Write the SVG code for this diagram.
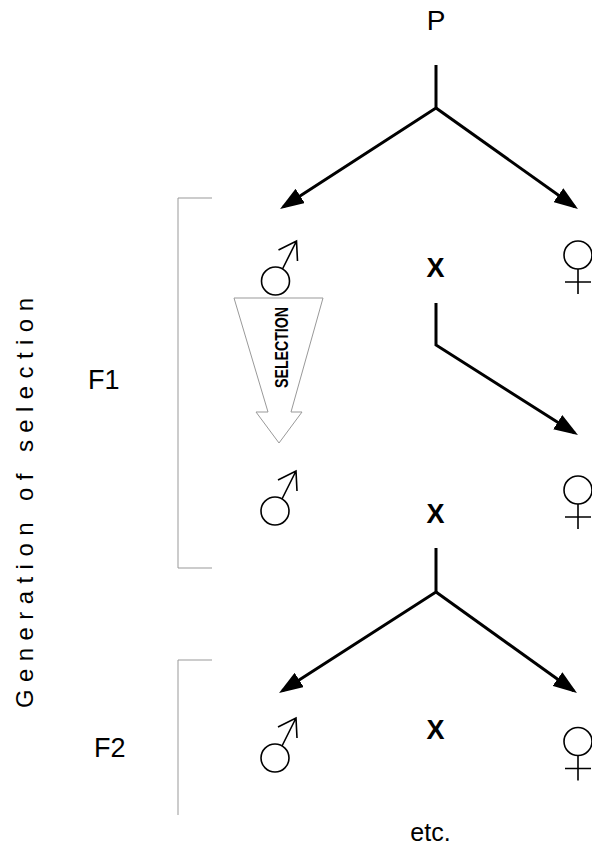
<svg xmlns="http://www.w3.org/2000/svg" xmlns:xlink="http://www.w3.org/1999/xlink" width="592" height="847" viewBox="0 0 592 847">
<style>
.lbl{font-family:"Liberation Sans",Arial,sans-serif;fill:#000}
.cross{font-family:"Liberation Sans",Arial,sans-serif;fill:#000;font-weight:bold;font-size:27px}
.conn{fill:none;stroke:#000;stroke-width:3;stroke-linejoin:miter}
.sym{fill:none;stroke:#000;stroke-width:1.6}
.grey{fill:none;stroke:#999;stroke-width:1}
</style>
<defs>
<marker id="ah" markerUnits="userSpaceOnUse" markerWidth="24" markerHeight="17" viewBox="0 0 24 17" refX="20" refY="8.5" orient="auto">
<path d="M0,0 L24,8.5 L0,17 z" fill="#000"/>
</marker>
<g id="maleSym" class="sym">
<circle cx="0" cy="0" r="14"/>
<path d="M7,-12 L21,-40 M3,-31 L21,-40 L22,-20"/>
</g>
<g id="femaleSym" class="sym">
<circle cx="0" cy="0" r="14"/>
<path d="M0,14 L0,39 M-13,27 L13,27"/>
</g>
</defs>
<rect width="592" height="847" fill="#fff"/>

<g id="label-generation">
<text class="lbl" font-size="24" transform="translate(33,708) rotate(-90)" textLength="410" lengthAdjust="spacing">Generation of selection</text>
</g>
<g id="bracket-F1"><path class="grey" d="M212,198 L178,198 L178,568 L212,568"/></g>
<g id="bracket-F2"><path class="grey" d="M212,660 L178,660 L178,815"/></g>
<g id="label-F1"><text class="lbl" x="88" y="389" font-size="27">F1</text></g>
<g id="label-F2"><text class="lbl" x="94" y="757" font-size="27">F2</text></g>

<g id="label-P"><text class="lbl" x="436" y="30" font-size="28" text-anchor="middle">P</text></g>

<g id="male1"><use xlink:href="#maleSym" x="275.5" y="281"/></g>
<g id="cross1"><text class="cross" x="435.5" y="277" text-anchor="middle">X</text></g>
<g id="female1"><use xlink:href="#femaleSym" x="578" y="255"/></g>

<g id="selection">
<polygon points="234,298 323,298 291,412 302,412 279,443 256,412 268,412" fill="#fff" stroke="#999" stroke-width="1"/>
<text class="lbl" font-size="18" font-weight="bold" transform="translate(288,388) rotate(-90)" textLength="81" lengthAdjust="spacingAndGlyphs">SELECTION</text>
</g>

<g id="male2"><use xlink:href="#maleSym" x="275" y="511"/></g>
<g id="cross2"><text class="cross" x="435.5" y="523" text-anchor="middle">X</text></g>
<g id="female2"><use xlink:href="#femaleSym" x="578" y="490"/></g>

<g id="male3"><use xlink:href="#maleSym" x="275" y="758"/></g>
<g id="cross3"><text class="cross" x="435.5" y="739" text-anchor="middle">X</text></g>
<g id="female3"><use xlink:href="#femaleSym" x="578" y="741.5"/></g>

<g id="label-etc"><text class="lbl" x="430.5" y="841" font-size="25" text-anchor="middle">etc.</text></g>

<g id="connectors">
<path class="conn" d="M436,65 L436,108 L283.4,206.8" marker-end="url(#ah)"/>
<path class="conn" d="M436,108 L574.7,206.7" marker-end="url(#ah)"/>
<path class="conn" d="M436,303 L436,345 L574.6,432.9" marker-end="url(#ah)"/>
<path class="conn" d="M436,548 L436,592 L282.4,690.8" marker-end="url(#ah)"/>
<path class="conn" d="M436,592 L573.7,690.7" marker-end="url(#ah)"/>
</g>
</svg>
